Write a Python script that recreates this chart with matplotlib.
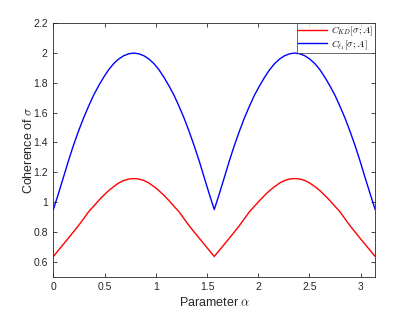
import matplotlib
matplotlib.use("Agg")
import matplotlib.pyplot as plt

alpha = [0.0, 0.049, 0.098, 0.147, 0.196, 0.245, 0.295, 0.344, 0.393, 0.442, 0.491,
         0.540, 0.589, 0.638, 0.687, 0.736, 0.785, 0.834, 0.884, 0.933, 0.982,
         1.031, 1.080, 1.129, 1.178, 1.227, 1.276, 1.325, 1.374, 1.424, 1.473,
         1.522, 1.571, 1.620, 1.669, 1.718, 1.767, 1.816, 1.865, 1.914, 1.963,
         2.013, 2.062, 2.111, 2.160, 2.209, 2.258, 2.307, 2.356, 2.405, 2.454,
         2.503, 2.553, 2.602, 2.651, 2.700, 2.749, 2.798, 2.847, 2.896, 2.945,
         2.994, 3.043, 3.093, 3.142]

c_kd = [0.635, 0.676, 0.717, 0.758, 0.800, 0.842, 0.888, 0.935, 0.972, 1.010, 1.045,
        1.077, 1.104, 1.128, 1.145, 1.155, 1.158, 1.155, 1.145, 1.128, 1.104,
        1.077, 1.045, 1.010, 0.972, 0.935, 0.888, 0.842, 0.800, 0.758, 0.717,
        0.676, 0.635, 0.676, 0.717, 0.758, 0.800, 0.842, 0.888, 0.935, 0.972,
        1.010, 1.045, 1.077, 1.104, 1.128, 1.145, 1.155, 1.158, 1.155, 1.145,
        1.128, 1.104, 1.077, 1.045, 1.010, 0.972, 0.935, 0.888, 0.842, 0.800,
        0.758, 0.717, 0.676, 0.635]

c_l1 = [0.950, 1.055, 1.165, 1.276, 1.380, 1.475, 1.564, 1.643, 1.717, 1.780, 1.837,
        1.888, 1.929, 1.960, 1.982, 1.995, 2.000, 1.995, 1.982, 1.960, 1.929,
        1.888, 1.837, 1.780, 1.717, 1.643, 1.564, 1.475, 1.380, 1.276, 1.165,
        1.055, 0.950, 1.055, 1.165, 1.276, 1.380, 1.475, 1.564, 1.643, 1.717,
        1.780, 1.837, 1.888, 1.929, 1.960, 1.982, 1.995, 2.000, 1.995, 1.982,
        1.960, 1.929, 1.888, 1.837, 1.780, 1.717, 1.643, 1.564, 1.475, 1.380,
        1.276, 1.165, 1.055, 0.950]

xticks = [0, 0.5, 1, 1.5, 2, 2.5, 3]
xticklabels = ["0", "0.5", "1", "1.5", "2", "2.5", "3"]
yticks = [0.6, 0.8, 1.0, 1.2, 1.4, 1.6, 1.8, 2.0, 2.2]
yticklabels = ["0.6", "0.8", "1", "1.2", "1.4", "1.6", "1.8", "2", "2.2"]

plt.rcParams['font.family'] = ['Liberation Sans', 'DejaVu Sans']
plt.rcParams['mathtext.fontset'] = 'cm'

fig = plt.figure(figsize=(4.15, 3.14), dpi=100)
ax = fig.add_axes([0.1285, 0.119, 0.7755, 0.807])

ax.plot(alpha, c_kd, color=(1, 0, 0), lw=1.0, label=r'$C_{KD}[\sigma;A]$')
ax.plot(alpha, c_l1, color=(0, 0, 1), lw=1.0, label=r'$C_{\ell_1}[\sigma;A]$')

ax.set_xlim(0, 3.1416)
ax.set_ylim(0.5, 2.2)
ax.set_xticks(xticks)
ax.set_xticklabels(xticklabels)
ax.set_yticks(yticks)
ax.set_yticklabels(yticklabels)

axc = (0.15, 0.15, 0.15)
for s in ax.spines.values():
    s.set_color(axc)
    s.set_linewidth(0.6)
ax.tick_params(direction='in', top=True, right=True, length=3, width=0.6,
               colors=axc, labelsize=7.5, labelcolor=axc, pad=4)

ax.set_xlabel(r'Parameter $\alpha$', fontsize=9, color=axc, labelpad=3)
ax.set_ylabel(r'Coherence of $\sigma$', fontsize=9, color=axc, labelpad=-1)

leg = ax.legend(loc='upper right', fontsize=7, frameon=True, fancybox=False,
                borderaxespad=0.0, handlelength=3.0, handletextpad=0.4,
                borderpad=0.15, labelspacing=0.0, edgecolor=axc)
leg.get_frame().set_linewidth(0.6)

fig.savefig('out.png', dpi=100)
